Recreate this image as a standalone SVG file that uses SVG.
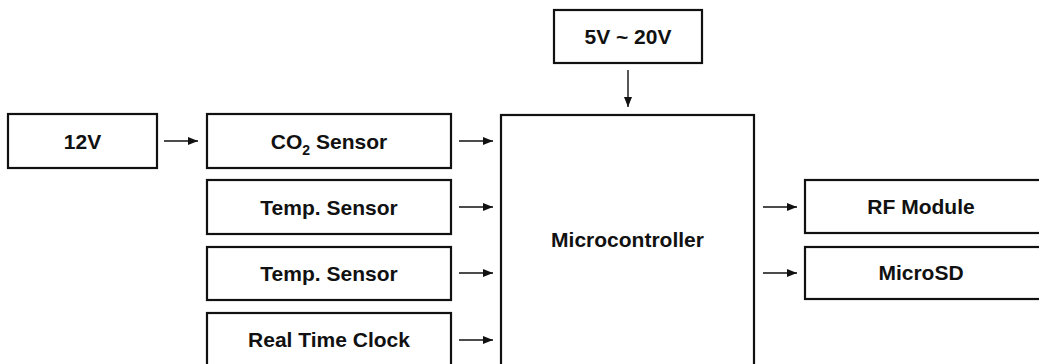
<svg xmlns="http://www.w3.org/2000/svg" width="1039" height="364" viewBox="0 0 1039 364">
<style>
.box{fill:#fff;stroke:#111;stroke-width:2.2}
.lbl{font-family:"Liberation Sans",Arial,sans-serif;font-weight:bold;font-size:21px;fill:#111;text-anchor:middle}
.conn{stroke:#111;stroke-width:1.4;fill:none;marker-end:url(#ah)}
</style>
<defs>
<marker id="ah" viewBox="0 0 10 8" refX="10" refY="4" markerWidth="10" markerHeight="8" markerUnits="userSpaceOnUse" orient="auto">
<path d="M0,0 L10,4 L0,8 Z" fill="#111"/>
</marker>
</defs>
<rect width="1039" height="364" fill="#fff"/>
<g id="n12v"><rect class="box" x="8" y="114" width="149" height="54"/><text class="lbl" x="82.5" y="149">12V</text></g>
<g id="co2"><rect class="box" x="207" y="114" width="244" height="54"/><text class="lbl" x="329" y="149">CO<tspan font-size="14" dy="6">2</tspan><tspan dy="-6"> Sensor</tspan></text></g>
<g id="temp1"><rect class="box" x="207" y="180" width="244" height="54"/><text class="lbl" x="329" y="215">Temp. Sensor</text></g>
<g id="temp2"><rect class="box" x="207" y="247" width="244" height="53"/><text class="lbl" x="329" y="281">Temp. Sensor</text></g>
<g id="rtc"><rect class="box" x="207" y="313" width="244" height="60"/><text class="lbl" x="329" y="347">Real Time Clock</text></g>
<g id="v5"><rect class="box" x="554" y="10" width="148" height="53"/><text class="lbl" x="628" y="44">5V ~ 20V</text></g>
<g id="mcu"><rect class="box" x="501" y="115" width="253" height="260"/><text class="lbl" x="627.5" y="247">Microcontroller</text></g>
<g id="rf"><rect class="box" x="805" y="180" width="250" height="53"/><text class="lbl" x="921" y="214">RF Module</text></g>
<g id="sd"><rect class="box" x="805" y="247" width="250" height="52"/><text class="lbl" x="921" y="280">MicroSD</text></g>
<g id="connectors">
<line class="conn" x1="164" y1="141" x2="198" y2="141"/>
<line class="conn" x1="459" y1="141" x2="493" y2="141"/>
<line class="conn" x1="459" y1="207" x2="493" y2="207"/>
<line class="conn" x1="459" y1="273" x2="493" y2="273"/>
<line class="conn" x1="459" y1="340" x2="493" y2="340"/>
<line class="conn" x1="628" y1="70" x2="628" y2="107"/>
<line class="conn" x1="763" y1="207" x2="797" y2="207"/>
<line class="conn" x1="763" y1="273" x2="797" y2="273"/>
</g>
</svg>
